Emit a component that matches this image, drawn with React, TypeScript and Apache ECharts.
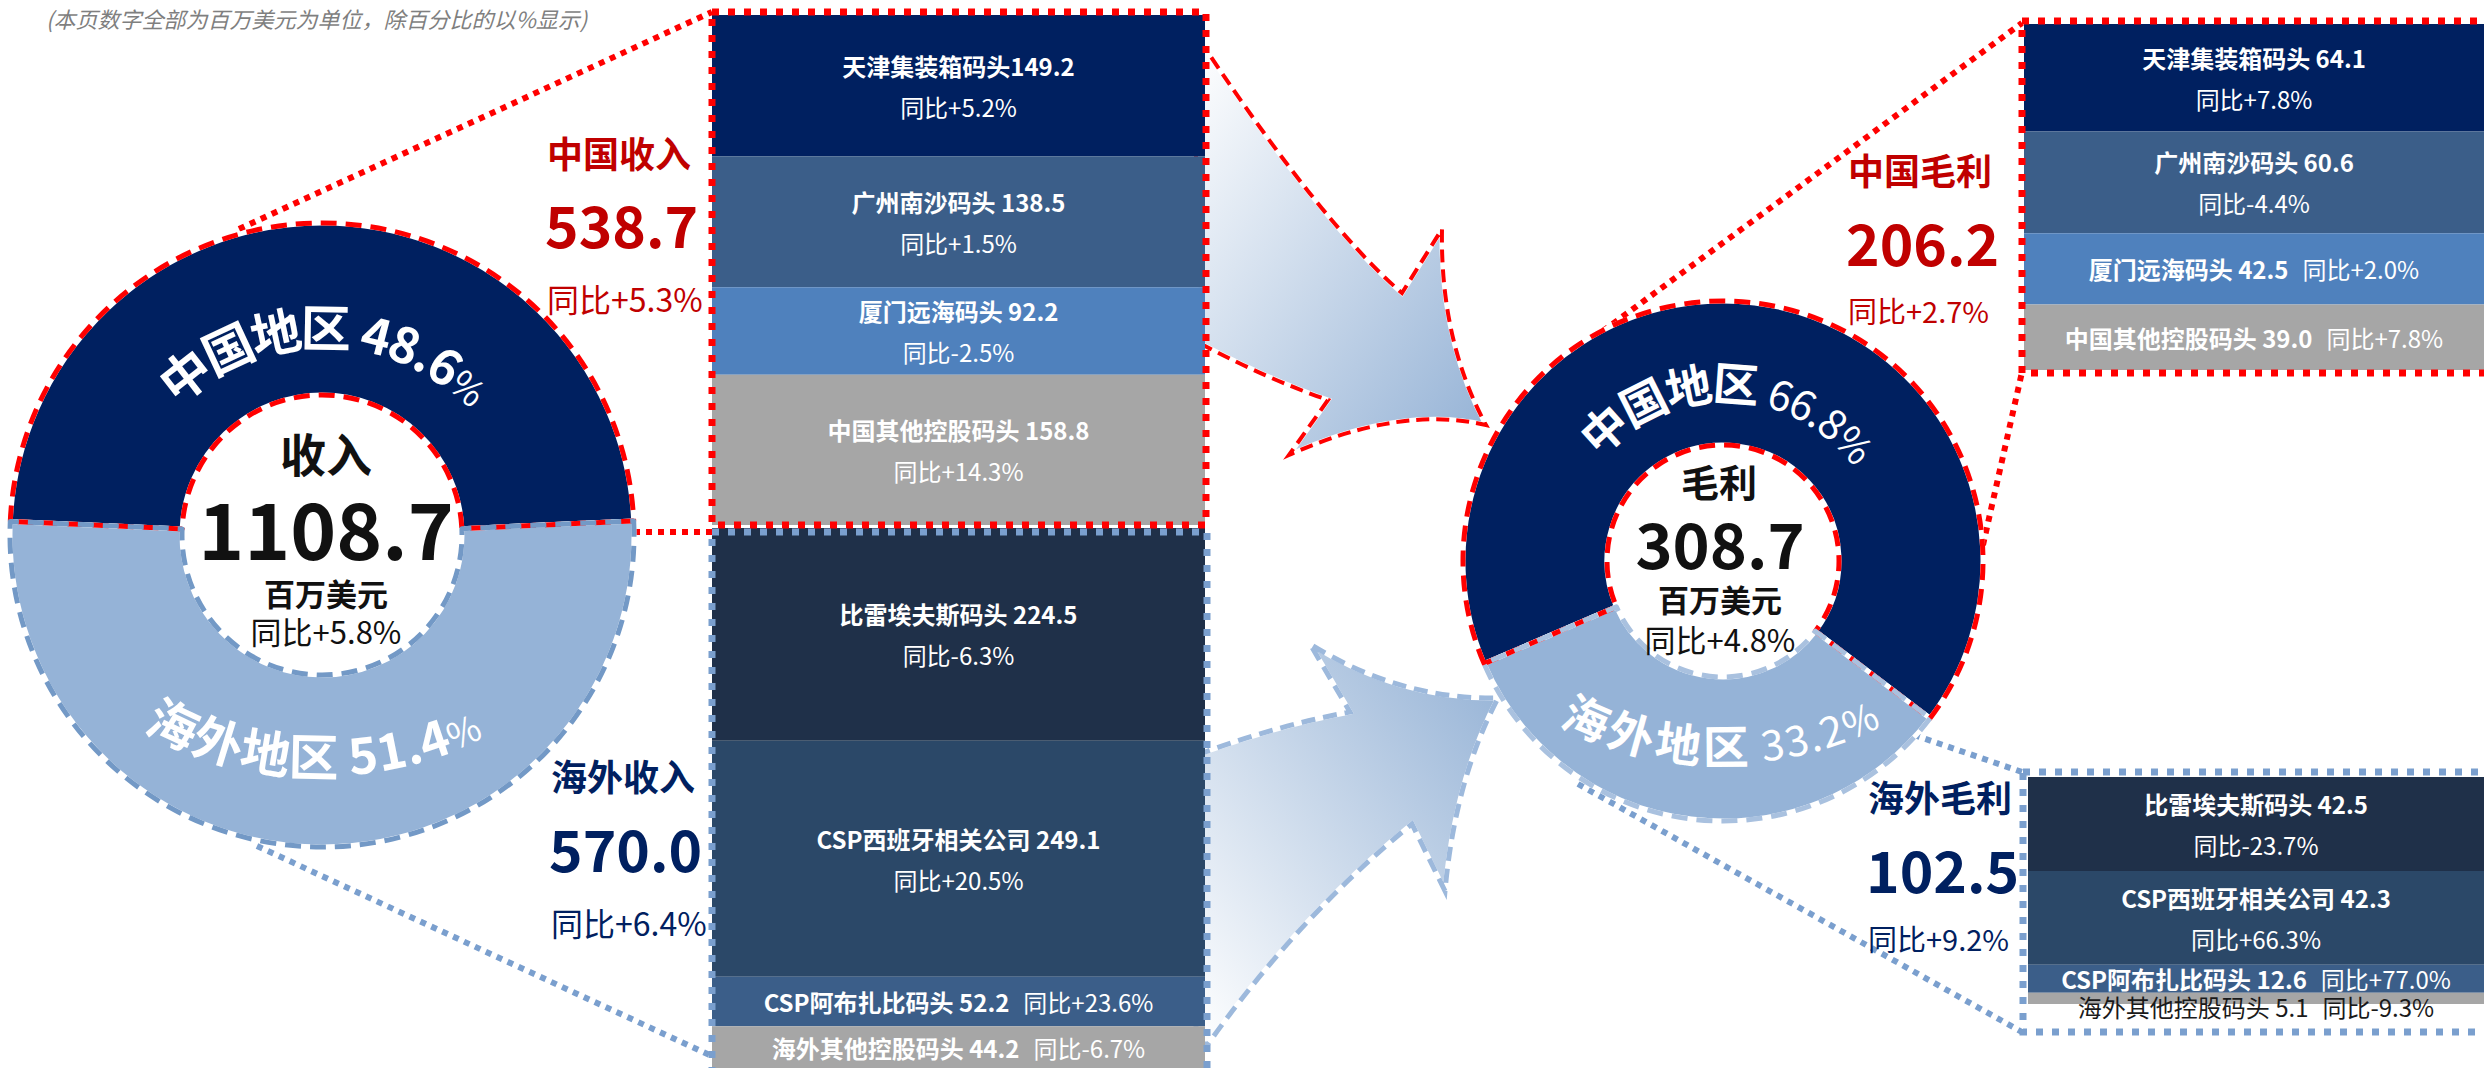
import React, { useEffect, useRef } from 'react';
import * as echarts from 'echarts';

const W = 2484;
const H = 1068;
const FONT = '"Noto Sans CJK SC", "Noto Sans", sans-serif';
const RED = '#C00000';
const NAVY = '#002060';
const LIGHT = '#95B3D7';
const DOT_RED = '#FF0000';
const DOT_BLUE = '#7A9FCE';

// ---------------- data ----------------
const subtitle = '(本页数字全部为百万美元为单位，除百分比的以%显示)';
const regionNames = ['中国地区', '海外地区'];
const revenueTitle = '收入';
const profitTitle = '毛利';
const unitText = '百万美元';
const totalRevenueYoy = '+5.8%';
const totalProfitYoy = '+4.8%';

const cnTerminals = ['天津集装箱码头', '广州南沙码头', '厦门远海码头', '中国其他控股码头'];
const osTerminals = ['比雷埃夫斯码头', 'CSP西班牙相关公司', 'CSP阿布扎比码头', '海外其他控股码头'];
const cnRevNameSep = ['', ' ', ' ', ' '];
const stdSep = [' ', ' ', ' ', ' '];

const cnRevValues = [149.2, 138.5, 92.2, 158.8];
const cnRevYoy = ['+5.2%', '+1.5%', '-2.5%', '+14.3%'];
const osRevValues = [224.5, 249.1, 52.2, 44.2];
const osRevYoy = ['-6.3%', '+20.5%', '+23.6%', '-6.7%'];
const cnGpValues = [64.1, 60.6, 42.5, 39.0];
const cnGpYoy = ['+7.8%', '-4.4%', '+2.0%', '+7.8%'];
const osGpValues = [42.5, 42.3, 12.6, 5.1];
const osGpYoy = ['-23.7%', '+66.3%', '+77.0%', '-9.3%'];

const cnRevTitle = '中国收入';
const osRevTitle = '海外收入';
const cnGpTitle = '中国毛利';
const osGpTitle = '海外毛利';
const cnRevTotalYoy = '+5.3%';
const osRevTotalYoy = '+6.4%';
const cnGpTotalYoy = '+2.7%';
const osGpTotalYoy = '+9.2%';

const cnColors = ['#002060', '#3B5E89', '#4F81BD', '#A6A6A6'];
const osColors = ['#1F3049', '#2B4868', '#3B5E89', '#A6A6A6'];

// ---------------- helpers ----------------
const sum = (a: number[]) => Math.round(a.reduce((s, v) => s + v, 0) * 10) / 10;

const TOP_ARROW =
  'M 1196 48 L 1205 48 Q 1324 226 1402 293 L 1442 229 Q 1440 340 1486 425 Q 1400 405 1289 455 L 1328 400 Q 1270 380 1205 346 L 1196 346 Z';
const BOTTOM_ARROW =
  'M 1196 752 L 1205 752 Q 1280 725 1350 712 L 1310 644 Q 1400 700 1498 698 Q 1455 780 1445 891 L 1412 824 Q 1300 915 1208 1044 L 1196 1044 Z';

try {
  echarts.graphic.registerShape('arrowTop', echarts.graphic.extendPath(TOP_ARROW, {}) as any);
  echarts.graphic.registerShape('arrowBottom', echarts.graphic.extendPath(BOTTOM_ARROW, {}) as any);
} catch (e) {
  // ignore
}

let measureCtx: CanvasRenderingContext2D | null = null;
function textWidth(t: string, size: number, weight: string) {
  if (!measureCtx) {
    const c = document.createElement('canvas');
    measureCtx = c.getContext('2d');
  }
  if (!measureCtx) return size * (/[\u4e00-\u9fff]/.test(t) ? 1 : 0.56);
  measureCtx.font = `${weight} ${size}px ${FONT}`;
  return measureCtx.measureText(t).width;
}

type Seg = { t: string; size: number; weight: string };

function arcText(segs: Seg[], acx: number, acy: number, r: number, a0: number, a1: number, top: boolean) {
  const chars: { ch: string; size: number; weight: string; c: number }[] = [];
  let cum = 0;
  const maxSize = Math.max(...segs.map((s) => s.size));
  segs.forEach((s) => {
    for (const ch of Array.from(s.t)) {
      const w = textWidth(ch, s.size, s.weight);
      chars.push({ ch, size: s.size, weight: s.weight, c: cum + w / 2 });
      cum += w;
    }
  });
  const vis = chars.filter((c) => c.ch.trim() !== '');
  const c0 = vis[0].c;
  const c1 = vis[vis.length - 1].c;
  return vis.map((c) => {
    const deg = a0 + ((c.c - c0) / (c1 - c0)) * (a1 - a0);
    const th = (deg * Math.PI) / 180;
    const shift = (maxSize - c.size) * 0.33;
    const rr = top ? r - shift : r + shift;
    return {
      type: 'text',
      x: acx + rr * Math.cos(th),
      y: acy - rr * Math.sin(th),
      rotation: top ? th - Math.PI / 2 : th + Math.PI / 2,
      z: 100,
      silent: true,
      style: {
        text: c.ch,
        fill: '#FFFFFF',
        fontSize: c.size,
        fontWeight: c.weight,
        fontFamily: FONT,
        textAlign: 'center',
        align: 'center',
        textVerticalAlign: 'middle',
        verticalAlign: 'middle',
      },
    };
  });
}

function txt(text: string, x: number, y: number, size: number, weight: string, color: string, align = 'left', extra: any = {}) {
  return {
    type: 'text',
    x,
    y,
    z: 100,
    silent: true,
    style: {
      text,
      fill: color,
      fontSize: size,
      fontWeight: weight,
      fontFamily: FONT,
      textAlign: align,
      align,
      textVerticalAlign: 'middle',
      verticalAlign: 'middle',
      ...extra,
    },
  };
}

function dotLine(x1: number, y1: number, x2: number, y2: number, color: string) {
  return {
    type: 'line',
    z: 1,
    silent: true,
    shape: { x1, y1, x2, y2 },
    style: { stroke: color, lineWidth: 6, lineDash: [6, 6], fill: null },
  };
}

function dotRect(x: number, y: number, w: number, h: number, color: string) {
  return {
    type: 'rect',
    z: 50,
    silent: true,
    shape: { x, y, width: w, height: h },
    style: { fill: 'none', stroke: color, lineWidth: 7, lineDash: [7, 9] },
  };
}

function stackSeries(
  gridIdx: number,
  names: string[],
  values: number[],
  yoy: string[],
  colors: string[],
  sep: string[],
  gridHeight: number
) {
  const total = sum(values);
  return values.map((v, i) => {
    const px = (v / total) * gridHeight;
    const val = v.toFixed(1);
    const thin = px < 20;
    const twoLine = px >= 80;
    const formatter = twoLine
      ? `{b|${names[i]}${sep[i]}${val}}\n{r|同比${yoy[i]}}`
      : `{b|${names[i]}${sep[i]}${val}}{r2|同比${yoy[i]}}`;
    const col = thin ? '#1A1A1A' : '#FFFFFF';
    return {
      type: 'bar',
      name: names[i],
      xAxisIndex: gridIdx,
      yAxisIndex: gridIdx,
      stack: 'stack' + gridIdx,
      barWidth: '100%',
      silent: true,
      z: 2,
      data: [v],
      itemStyle: { color: colors[i] },
      emphasis: { disabled: true },
      label: {
        show: true,
        position: 'inside',
        offset: thin ? [0, 8] : [0, 0],
        formatter,
        rich: {
          b: { fontSize: 24, fontWeight: thin ? 'normal' : 'bold', color: col, fontFamily: FONT, lineHeight: 41 },
          r: { fontSize: 24, fontWeight: 'normal', color: col, fontFamily: FONT, lineHeight: 41 },
          r2: {
            fontSize: 24,
            fontWeight: 'normal',
            color: col,
            fontFamily: FONT,
            lineHeight: 41,
            padding: [0, 0, 0, 14],
          },
        },
      },
    };
  });
}

function donut(center: number[], radius: number[], startAngle: number, values: number[], colors: string[], borders: string[]) {
  const base = {
    type: 'pie',
    center,
    radius,
    startAngle,
    clockwise: true,
    silent: true,
    label: { show: false },
    labelLine: { show: false },
    emphasis: { disabled: true },
  };
  return [
    {
      ...base,
      z: 3,
      data: values.map((v, i) => ({
        value: v,
        name: regionNames[i],
        itemStyle: { color: colors[i], borderColor: '#FFFFFF', borderWidth: 5 },
      })),
    },
    {
      ...base,
      z: 4,
      data: values.map((v, i) => ({
        value: v,
        name: regionNames[i],
        itemStyle: { color: 'rgba(0,0,0,0)', borderColor: borders[i], borderWidth: 5, borderType: [16, 9] },
      })),
    },
  ];
}

function buildOption() {
  const cnRevSum = sum(cnRevValues);
  const osRevSum = sum(osRevValues);
  const cnGpSum = sum(cnGpValues);
  const osGpSum = sum(osGpValues);
  const revTotal = sum([cnRevSum, osRevSum]);
  const gpTotal = sum([cnGpSum, osGpSum]);
  const revShares = [cnRevSum, osRevSum].map((v) => ((v / revTotal) * 100).toFixed(1));
  const gpShares = [cnGpSum, osGpSum].map((v) => ((v / gpTotal) * 100).toFixed(1));

  const grids = [
    { left: 712, top: 15, width: 493, height: 510 },
    { left: 712, top: 528, width: 493, height: 540 },
    { left: 2024, top: 24, width: 460, height: 346 },
    { left: 2028, top: 777, width: 456, height: 227 },
  ];
  const totals = [cnRevSum, osRevSum, cnGpSum, osGpSum];

  const bars = [
    ...stackSeries(0, cnTerminals, cnRevValues, cnRevYoy, cnColors, cnRevNameSep, grids[0].height),
    ...stackSeries(1, osTerminals, osRevValues, osRevYoy, osColors, stdSep, grids[1].height),
    ...stackSeries(2, cnTerminals, cnGpValues, cnGpYoy, cnColors, stdSep, grids[2].height),
    ...stackSeries(3, osTerminals, osGpValues, osGpYoy, osColors, stdSep, grids[3].height),
  ];

  const pies = [
    ...donut([322, 535], [140, 312], 177.5, [cnRevSum, osRevSum], [NAVY, LIGHT], [DOT_RED, '#7399C6']),
    ...donut([1723, 561], [116, 260], 203.25, [cnGpSum, osGpSum], [NAVY, LIGHT], [DOT_RED, '#A9C1DF']),
  ];

  const graphics: any[] = [];

  // subtitle
  graphics.push(txt(subtitle, 46, 18, 22, 'normal', '#7F7F7F', 'left', { fontStyle: 'italic' }));

  // arrows
  graphics.push({
    type: 'arrowTop',
    x: 0,
    y: 0,
    z: 1,
    silent: true,
    style: {
      fill: new echarts.graphic.LinearGradient(0, 0, 1, 1, [
        { offset: 0, color: '#FFFFFF' },
        { offset: 1, color: '#93B1D5' },
      ]),
      stroke: '#FFFFFF',
      lineWidth: 5,
    },
  });
  graphics.push({
    type: 'arrowTop',
    x: 0,
    y: 0,
    z: 1,
    silent: true,
    style: { fill: 'none', stroke: DOT_RED, lineWidth: 4, lineDash: [13, 7] },
  });
  graphics.push({
    type: 'arrowBottom',
    x: 0,
    y: 0,
    z: 1,
    silent: true,
    style: {
      fill: new echarts.graphic.LinearGradient(0, 1, 1, 0, [
        { offset: 0, color: '#FFFFFF' },
        { offset: 1, color: '#93B1D5' },
      ]),
      stroke: '#FFFFFF',
      lineWidth: 5,
    },
  });
  graphics.push({
    type: 'arrowBottom',
    x: 0,
    y: 0,
    z: 1,
    silent: true,
    style: { fill: 'none', stroke: '#9DB9DC', lineWidth: 5, lineDash: [14, 8] },
  });

  // connector dotted lines
  graphics.push(dotLine(239, 229, 712, 12, DOT_RED));
  graphics.push(dotLine(634, 532, 712, 532, DOT_RED));
  graphics.push(dotLine(257, 846, 716, 1058, DOT_BLUE));
  graphics.push(dotLine(1603, 331, 2022, 23, DOT_RED));
  graphics.push(dotLine(1983, 545, 2022, 372, DOT_RED));
  graphics.push(dotLine(1914, 735, 2022, 772, DOT_BLUE));
  graphics.push(dotLine(1578, 784, 2022, 1032, DOT_BLUE));

  // box borders
  graphics.push(dotRect(712, 12, 494, 513, DOT_RED));
  graphics.push(dotRect(712, 532, 495, 560, DOT_BLUE));
  graphics.push(dotRect(2022, 21, 480, 352, DOT_RED));
  graphics.push(dotRect(2023, 772, 480, 260, DOT_BLUE));

  // left donut center texts
  graphics.push(txt(revenueTitle, 326, 452, 46, 'bold', '#111111', 'center'));
  graphics.push(txt(revTotal.toFixed(1), 326, 526, 78, 'bold', '#111111', 'center'));
  graphics.push(txt(unitText, 326, 592, 31, 'bold', '#111111', 'center'));
  graphics.push(txt('同比' + totalRevenueYoy, 326, 630, 31, 'normal', '#111111', 'center'));

  // right donut center texts
  graphics.push(txt(profitTitle, 1719, 480, 38, 'bold', '#111111', 'center'));
  graphics.push(txt(gpTotal.toFixed(1), 1720, 541, 63, 'bold', '#111111', 'center'));
  graphics.push(txt(unitText, 1720, 598, 31, 'bold', '#111111', 'center'));
  graphics.push(txt('同比' + totalProfitYoy, 1720, 638, 31, 'normal', '#111111', 'center'));

  // curved donut labels
  graphics.push(
    ...arcText(
      [
        { t: regionNames[0], size: 50, weight: 'bold' },
        { t: ' ', size: 50, weight: 'bold' },
        { t: revShares[0], size: 50, weight: 'bold' },
        { t: '%', size: 36, weight: 'normal' },
      ],
      322, 550, 225, 128, 48, true
    )
  );
  graphics.push(
    ...arcText(
      [
        { t: regionNames[1], size: 50, weight: 'bold' },
        { t: ' ', size: 50, weight: 'bold' },
        { t: revShares[1], size: 50, weight: 'bold' },
        { t: '%', size: 36, weight: 'normal' },
      ],
      322, 406, 348, -115, -66.5, false
    )
  );
  graphics.push(
    ...arcText(
      [
        { t: regionNames[0], size: 46, weight: 'bold' },
        { t: ' ', size: 46, weight: 'bold' },
        { t: gpShares[0], size: 42, weight: 'normal' },
        { t: '%', size: 38, weight: 'normal' },
      ],
      1723, 561, 180, 132, 41.5, true
    )
  );
  graphics.push(
    ...arcText(
      [
        { t: regionNames[1], size: 46, weight: 'bold' },
        { t: ' ', size: 46, weight: 'bold' },
        { t: gpShares[1], size: 42, weight: 'normal' },
        { t: '%', size: 38, weight: 'normal' },
      ],
      1723, 405, 339, -113.5, -66.5, false
    )
  );

  // side summary labels
  graphics.push(txt(cnRevTitle, 547, 152, 36, 'bold', RED));
  graphics.push(txt(cnRevSum.toFixed(1), 545, 223, 57, 'bold', RED));
  graphics.push(txt('同比' + cnRevTotalYoy, 547, 298, 32, 'normal', RED));
  graphics.push(txt(osRevTitle, 551, 775, 36, 'bold', NAVY));
  graphics.push(txt(osRevSum.toFixed(1), 549, 847, 57, 'bold', NAVY));
  graphics.push(txt('同比' + osRevTotalYoy, 551, 922, 32, 'normal', NAVY));
  graphics.push(txt(cnGpTitle, 1848, 169, 36, 'bold', RED));
  graphics.push(txt(cnGpSum.toFixed(1), 1846, 241, 57, 'bold', RED));
  graphics.push(txt('同比' + cnGpTotalYoy, 1848, 310, 29, 'normal', RED));
  graphics.push(txt(osGpTitle, 1868, 796, 36, 'bold', NAVY));
  graphics.push(txt(osGpSum.toFixed(1), 1866, 868, 57, 'bold', NAVY));
  graphics.push(txt('同比' + osGpTotalYoy, 1868, 938, 29, 'normal', NAVY));

  return {
    animation: false,
    backgroundColor: '#FFFFFF',
    textStyle: { fontFamily: FONT },
    grid: grids.map((g) => ({ ...g, containLabel: false, outerBoundsMode: 'none' })),
    xAxis: grids.map((_, i) => ({ type: 'category', gridIndex: i, data: [''], show: false })),
    yAxis: grids.map((_, i) => ({
      type: 'value',
      gridIndex: i,
      inverse: true,
      min: 0,
      max: totals[i],
      show: false,
    })),
    series: [...pies, ...bars],
    graphic: { elements: graphics },
  };
}

export default function App() {
  const ref = useRef<HTMLDivElement>(null);
  useEffect(() => {
    if (!ref.current) return;
    const chart = echarts.init(ref.current, null, { renderer: 'svg', width: W, height: H });
    chart.setOption(buildOption() as any);
    return () => {
      chart.dispose();
    };
  }, []);
  return (
    <div
      ref={ref}
      style={{ position: 'absolute', left: 0, top: 0, width: W, height: H, background: '#FFFFFF', overflow: 'hidden' }}
    />
  );
}
